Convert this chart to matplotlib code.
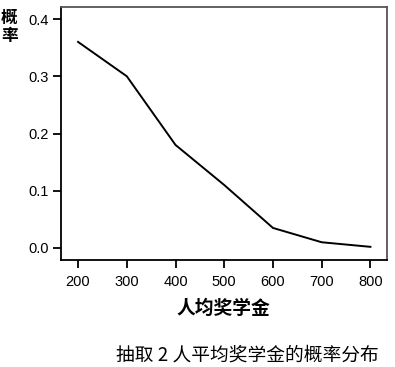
import matplotlib
matplotlib.use("Agg")
import matplotlib.pyplot as plt

plt.rcParams['font.family'] = ['Liberation Sans', 'Noto Sans CJK SC', 'DejaVu Sans']

# 人均奖学金 与 概率
amounts = [200, 300, 400, 500, 600, 700, 800]
probs = [0.36, 0.30, 0.18, 0.11, 0.035, 0.01, 0.002]
yticks = [0.0, 0.1, 0.2, 0.3, 0.4]

fig = plt.figure(figsize=(3.95, 3.67), dpi=100)
ax = fig.add_axes([61 / 395, 1 - 260 / 367, 326 / 395, 253 / 367])

ax.plot(amounts, probs, color="black", lw=1.4)

ax.set_xlim(165, 834)
ax.set_ylim(-0.021, 0.421)
ax.set_xticks(amounts)
ax.set_yticks(yticks)
ax.set_yticklabels([f"{v:.1f}" for v in yticks])
ax.tick_params(direction="out", length=6, width=1.3, labelsize=10.5, colors="black", pad=3)
ax.tick_params(axis="x", pad=5)

for side in ["left", "bottom"]:
    ax.spines[side].set_linewidth(1.3)
    ax.spines[side].set_color("black")
for side in ["top", "right"]:
    ax.spines[side].set_linewidth(1.3)
    ax.spines[side].set_color("#555555")

cjk = ['Noto Sans CJK SC', 'DejaVu Sans']
fig.text(9.5 / 395, 1 - 27 / 367, "概\n率", family=cjk, fontsize=12, fontweight="bold",
         ha="center", va="center", linespacing=1.0)
fig.text(223 / 395, 1 - 308 / 367, "人均奖学金", family=cjk, fontsize=13.5, fontweight="bold",
         ha="center", va="center")
fig.text(247 / 395, 1 - 355 / 367, "抽取 2 人平均奖学金的概率分布", family=cjk, fontsize=13.5,
         ha="center", va="center")

fig.savefig("out.png", dpi=100)
